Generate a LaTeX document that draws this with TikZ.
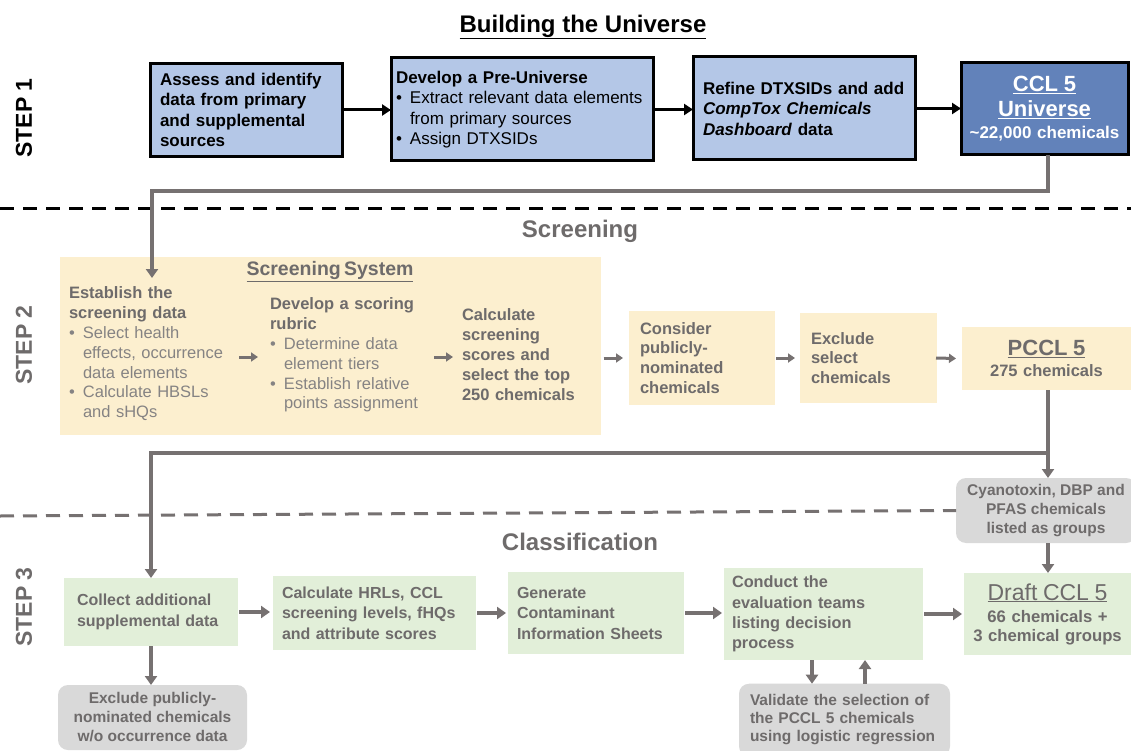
\documentclass[tikz,border=0pt]{standalone}
\usepackage{fontspec}
\setmainfont{Liberation Sans}
\usetikzlibrary{arrows.meta,calc}
\definecolor{blueL}{HTML}{B4C7E7}
\definecolor{blueD}{HTML}{6282BA}
\definecolor{yel}{HTML}{FCEFCF}
\definecolor{grn}{HTML}{E2EFD9}
\definecolor{gbox}{HTML}{D9D9D9}
\definecolor{tgrey}{HTML}{6E6B6B}
\definecolor{tlight}{HTML}{858383}
\definecolor{lgrey}{HTML}{767171}
\newcommand\fb{\fontsize{17}{20.5}\selectfont}
\newcommand\fy{\fontsize{16.5}{19.8}\selectfont}
\newcommand\bl[1]{\makebox[14pt][l]{\textbullet}#1}
\newcommand\ind{\hspace*{14pt}}
\begin{document}
\begin{tikzpicture}[x=1pt,y=-1pt,
  every node/.style={inner sep=0pt, outer sep=0pt,
    execute at begin node={\hyphenpenalty=10000\exhyphenpenalty=10000\relax}},
  bbox/.style={draw=black, line width=3pt, fill=blueL, align=left, font=\bfseries\fb, inner sep=10pt},
  ybox/.style={fill=yel, align=left, font=\bfseries\fy, text=tgrey, inner sep=11pt},
  gbx/.style={fill=grn, align=left, text=tgrey, inner sep=11pt, font=\bfseries\fontsize{16}{20.5}\selectfont},
  rbox/.style={fill=gbox, rounded corners=10pt, align=center, text=tgrey, font=\bfseries\fontsize{15.5}{19}\selectfont},
  steplab/.style={rotate=90, font=\bfseries\fontsize{23}{26}\selectfont},
  karr/.style={draw=black, line width=3pt, -{Triangle[length=9pt,width=11pt]}},
  garr/.style={draw=lgrey, line width=3.5pt, -{Triangle[length=9pt,width=12pt]}},
  gline/.style={draw=lgrey, line width=3.5pt},
  sarr/.style={draw=lgrey, line width=3pt, -{Triangle[length=7pt,width=9pt]}},
]
\useasboundingbox (0,0) rectangle (1131,751);
\fill[white] (0,0) rectangle (1131,751);

% ---------- STEP 1 ----------
\node[font=\bfseries\fontsize{24}{28}\selectfont] (title) at (583,27) {\underline{Building the Universe}};
\node[steplab] (s1) at (24,118) {STEP 1};

\node[bbox, minimum width=192pt, minimum height=90pt, text width=172pt] (a) at (246,110)
 {Assess and identify\\data from primary\\and supplemental\\sources};
\node[bbox, minimum width=262pt, minimum height=103pt, text width=252pt, inner sep=5pt] (b) at (522,109.5)
 {Develop a Pre-Universe\\\mdseries\bl{Extract relevant data elements}\\\ind from primary sources\\\bl{Assign DTXSIDs}};
\node[bbox, minimum width=222pt, minimum height=103pt, text width=202pt] (c) at (804,108.5)
 {Refine DTXSIDs and add\\\textit{CompTox Chemicals}\\\textit{Dashboard} data};
\node[bbox, fill=blueD, text=white, align=center, minimum width=167pt, minimum height=92pt, text width=161pt, inner sep=3pt,
  font=\bfseries\fontsize{17}{20}\selectfont] (d) at (1044.5,109)
 {{\fontsize{22}{25}\selectfont\underline{CCL 5}}\\[5pt]{\fontsize{22}{25}\selectfont\underline{Universe}}\\[2pt]\textasciitilde22,000 chemicals};

\draw[karr] (a.east) -- (a.east -| b.west);
\draw[karr] (b.east) -- (b.east -| c.west);
\draw[karr] (c.east) -- (c.east -| d.west);

\draw[black, line width=3pt, dash pattern=on 14pt off 9pt] (0,209) -- (1131,209);

% ---------- STEP 2 ----------
\node[font=\bfseries\fontsize{24}{28}\selectfont, text=tgrey] (scr) at (580,231) {Screening};
\node[steplab, text=tgrey] (s2) at (24,345) {STEP 2};

\node[fill=yel, minimum width=541pt, minimum height=178pt] (ss) at (330,346) {};
\node[font=\bfseries\fontsize{19.5}{22}\selectfont, text=tgrey] (sst) at (330,272) {\underline{Screening\,System}};

\node[anchor=north west, align=left, text width=168pt, text=tgrey, font=\bfseries\fy] (col1) at (69,287)
 {Establish the\\screening data\\\mdseries\color{tlight}\bl{Select health}\\\ind effects, occurrence\\\ind data elements\\\bl{Calculate HBSLs}\\\ind and sHQs};
\node[anchor=north west, align=left, text width=162pt, text=tgrey, font=\bfseries\fy] (col2) at (270,298)
 {Develop a scoring\\rubric\\\mdseries\color{tlight}\bl{Determine data}\\\ind element tiers\\\bl{Establish relative}\\\ind points assignment};
\node[anchor=north west, align=left, text width=136pt, text=tgrey, font=\bfseries\fy] (col3) at (462,309)
 {Calculate\\screening\\scores and\\select the top\\250 chemicals};

\draw[sarr] (239,357) -- (258,357);
\draw[sarr] (434,357) -- (453,357);

\node[ybox, minimum width=146pt, minimum height=90pt, text width=124pt] (cons) at (702,358)
 {Consider\\publicly-\\nominated\\chemicals};
\node[ybox, minimum width=137pt, minimum height=90pt, text width=115pt] (excl) at (868.5,358)
 {Exclude\\select\\chemicals};
\node[ybox, align=center, minimum width=169pt, minimum height=63pt, text width=160pt, inner sep=4pt] (pccl) at (1046.5,358.5)
 {{\fontsize{22}{24}\selectfont\underline{PCCL 5}}\\[1pt]275 chemicals};

\draw[sarr] (cons.west -| ss.east) ++(3,0) -- ([xshift=-6pt]cons.west);
\draw[sarr] ([xshift=1pt]cons.east) -- ([xshift=-5pt]excl.west);
\draw[sarr] ([xshift=-1pt]excl.east) -- ([xshift=-6pt]pccl.west);

% connector from universe to screening data
\coordinate (k1) at (152,191);
\draw[garr] ($(d.south)+(3.5,0)$) |- (k1) -- ($(col1.north west)+(83,-9)$);

% ---------- STEP 3 ----------
\node[rbox, minimum width=180pt, minimum height=65pt] (cy) at (1046,510.5)
 {Cyanotoxin, DBP and\\PFAS chemicals\\listed as groups};
\draw[lgrey, line width=3pt, dash pattern=on 14pt off 9pt] (0,516) -- (cy.west);

\node[font=\bfseries\fontsize{24}{28}\selectfont, text=tgrey] (cls) at (580,542) {Classification};
\node[steplab, text=tgrey] (s3) at (24,607) {STEP 3};

\coordinate (j) at (1048,453);
\draw[garr] (pccl.south -| j) -- (cy.north -| j);

\node[gbx, minimum width=174pt, minimum height=68pt, text width=148pt, inner sep=13pt] (coll) at (151,612)
 {Collect additional\\supplemental data};
\draw[garr] (j) -| (coll.north);

\node[gbx, minimum width=203pt, minimum height=74pt, text width=185pt, inner sep=9pt] (calc) at (374.5,613)
 {Calculate HRLs, CCL\\screening levels, fHQs\\and attribute scores};
\node[gbx, minimum width=176pt, minimum height=82pt, text width=158pt, inner sep=9pt] (gen) at (596,613)
 {Generate\\Contaminant\\Information Sheets};
\node[gbx, minimum width=199pt, minimum height=82pt, text width=183pt, inner sep=8pt,
  font=\bfseries\fontsize{16.3}{20.3}\selectfont] (cond) at (823.5,614)
 {Conduct the\\evaluation teams\\listing decision\\process};
\node[gbx, align=center, minimum width=167pt, minimum height=82pt, text width=163pt, inner sep=2pt,
  font=\bfseries\fontsize{16.7}{19}\selectfont] (draft) at (1047.5,614)
 {{\mdseries\fontsize{23}{25}\selectfont\underline{Draft CCL 5}}\\[3pt]66 chemicals +\\3 chemical groups};

\node[rbox, minimum width=189pt, minimum height=65pt] (ex2) at (152.5,717.5)
 {Exclude publicly-\\nominated chemicals\\w/o occurrence data};
\node[rbox, align=left, minimum width=211pt, minimum height=70pt, text width=189pt, inner sep=11pt,
  font=\bfseries\fontsize{15.5}{18}\selectfont] (val) at (844.5,720)
 {Validate the selection of\\the PCCL 5 chemicals\\using logistic regression};

\draw[garr] ([xshift=1pt]coll.east) -- ([xshift=-3pt]coll.east -| calc.west);
\draw[garr] ([xshift=1pt]calc.east) -- ([xshift=-2pt]calc.east -| gen.west);
\draw[garr] ([xshift=1pt]gen.east) -- ([xshift=-2pt]gen.east -| cond.west);
\draw[garr] ([xshift=1pt]cond.east) -- ([xshift=-2pt]cond.east -| draft.west);
\draw[garr] (cy.south -| j) -- (draft.north -| j);
\draw[garr] (coll.south) -- (coll.south |- ex2.north);
\draw[garr] ([xshift=-11.5pt]cond.south) -- ([xshift=-11.5pt]cond.south |- val.north);
\draw[garr] ([xshift=20.5pt]val.north) -- ([xshift=20.5pt]val.north |- cond.south);
\end{tikzpicture}
\end{document}
